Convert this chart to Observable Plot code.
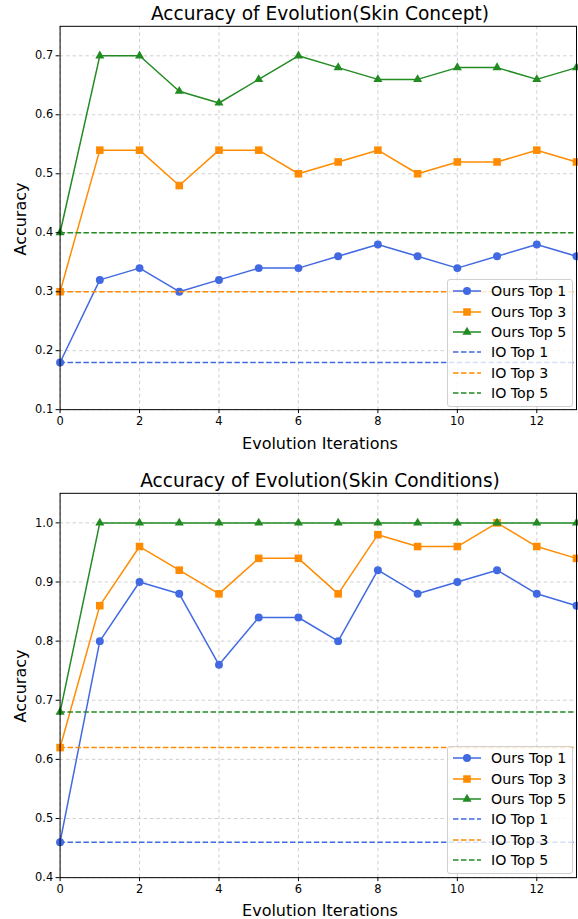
<!DOCTYPE html>
<html>
<head>
<meta charset="utf-8">
<script src="https://cdn.jsdelivr.net/npm/d3@7"></script>
<script src="https://cdn.jsdelivr.net/npm/@observablehq/plot@0.6"></script>
<style>
  html, body { margin: 0; padding: 0; background: #fff; overflow: hidden; }
  body { width: 578px; height: 919px; position: relative; font-family: "DejaVu Sans", sans-serif; }
  .abs { position: absolute; }
  .title { font-size: 18.6px; color: #000; white-space: nowrap; transform: translate(-50%, -50%); }
  .xlabel { font-size: 16px; color: #000; white-space: nowrap; transform: translate(-50%, -50%); }
  .ylabel { font-size: 16px; color: #000; white-space: nowrap; transform: translate(-50%, -50%) rotate(-90deg); }
  .legend { background: rgba(255,255,255,0.8); border: 1px solid #d0d0d0; border-radius: 3px; padding: 1px 2px 3px 4px; box-sizing: border-box; overflow: hidden; }
  .legend .row { display: flex; align-items: center; height: 20.4px; font-size: 14.2px; color: #000; white-space: nowrap; }
  .legend svg { margin-right: 9px; flex: none; }
</style>
</head>
<body>
<script>
// ---------- data ----------
const iterations = [0, 1, 2, 3, 4, 5, 6, 7, 8, 9, 10, 11, 12, 13];

const conceptOursTop1 = [0.18, 0.32, 0.34, 0.30, 0.32, 0.34, 0.34, 0.36, 0.38, 0.36, 0.34, 0.36, 0.38, 0.36];
const conceptOursTop3 = [0.30, 0.54, 0.54, 0.48, 0.54, 0.54, 0.50, 0.52, 0.54, 0.50, 0.52, 0.52, 0.54, 0.52];
const conceptOursTop5 = [0.40, 0.70, 0.70, 0.64, 0.62, 0.66, 0.70, 0.68, 0.66, 0.66, 0.68, 0.68, 0.66, 0.68];
const conceptIO = [0.18, 0.30, 0.40];

const condOursTop1 = [0.46, 0.80, 0.90, 0.88, 0.76, 0.84, 0.84, 0.80, 0.92, 0.88, 0.90, 0.92, 0.88, 0.86];
const condOursTop3 = [0.62, 0.86, 0.96, 0.92, 0.88, 0.94, 0.94, 0.88, 0.98, 0.96, 0.96, 1.00, 0.96, 0.94];
const condOursTop5 = [0.68, 1.00, 1.00, 1.00, 1.00, 1.00, 1.00, 1.00, 1.00, 1.00, 1.00, 1.00, 1.00, 1.00];
const condIO = [0.46, 0.62, 0.68];

const seriesNames = ["Ours Top 1", "Ours Top 3", "Ours Top 5"];
const ioNames = ["IO Top 1", "IO Top 3", "IO Top 5"];
const colors = ["#4169E1", "#FF8C00", "#228B22"];
const symbols = ["circle", "square", "triangle"];
const symbolR = [4, 4.3, 3.4];

const xTicks = [0, 2, 4, 6, 8, 10, 12];
const conceptYTicks = [0.1, 0.2, 0.3, 0.4, 0.5, 0.6, 0.7];
const condYTicks = [0.4, 0.5, 0.6, 0.7, 0.8, 0.9, 1.0];

const titles = ["Accuracy of Evolution(Skin Concept)", "Accuracy of Evolution(Skin Conditions)"];
const xLabel = "Evolution Iterations";
const yLabel = "Accuracy";

// ---------- chart builder ----------
function makeChart({ours, io, yDomain, yTicks, height, marginBottom}) {
  const marks = [
    Plot.gridX(xTicks, {stroke: "#b0b0b0", strokeOpacity: 0.6, strokeDasharray: "3.5,3"}),
    Plot.gridY(yTicks, {stroke: "#b0b0b0", strokeOpacity: 0.6, strokeDasharray: "3.5,3"})
  ];
  ours.forEach((vals, i) => {
    const data = iterations.map((x, j) => ({x, y: vals[j]}));
    marks.push(Plot.line(data, {x: "x", y: "y", stroke: colors[i], strokeWidth: 1.5}));
    marks.push(Plot.dot(data, {x: "x", y: "y", fill: colors[i], stroke: "none", symbol: symbols[i], r: symbolR[i]}));
  });
  io.forEach((v, i) => {
    marks.push(Plot.ruleY([v], {x1: 0, x2: 13, stroke: colors[i], strokeWidth: 1.5, strokeDasharray: "5.5,2.5"}));
  });
  marks.push(Plot.frame({stroke: "#000", strokeWidth: 1}));
  marks.push(Plot.axisX(xTicks, {tickSize: 4, tickPadding: 3, fontSize: 11.5, label: null, tickFormat: d3.format("d")}));
  marks.push(Plot.axisY(yTicks, {tickSize: 4, tickPadding: 3, fontSize: 11.5, label: null, tickFormat: d3.format(".1f")}));
  return Plot.plot({
    width: 582, height,
    marginLeft: 60, marginRight: 2, marginTop: 26, marginBottom,
    x: {domain: [0, 13]},
    y: {domain: yDomain},
    style: {fontFamily: "DejaVu Sans, sans-serif", color: "#000", background: "transparent", overflow: "visible"},
    marks
  });
}

function place(el, left, top) {
  el.classList.add("abs");
  el.style.left = left + "px";
  el.style.top = top + "px";
  document.body.appendChild(el);
  return el;
}
function label(text, cls, x, y) {
  const d = document.createElement("div");
  d.className = cls;
  d.textContent = text;
  place(d, x, y);
}
function legend(x, y) {
  const box = document.createElement("div");
  box.className = "legend";
  const items = [
    ...seriesNames.map((n, i) => ({n, i, dashed: false})),
    ...ioNames.map((n, i) => ({n, i, dashed: true}))
  ];
  items.forEach(({n, i, dashed}) => {
    const row = document.createElement("div");
    row.className = "row";
    const ns = "http://www.w3.org/2000/svg";
    const s = document.createElementNS(ns, "svg");
    s.setAttribute("width", 30); s.setAttribute("height", 14);
    const l = document.createElementNS(ns, "line");
    l.setAttribute("x1", 1); l.setAttribute("x2", 29); l.setAttribute("y1", 7); l.setAttribute("y2", 7);
    l.setAttribute("stroke", colors[i]); l.setAttribute("stroke-width", 1.5);
    if (dashed) l.setAttribute("stroke-dasharray", "5.5,2.5");
    s.appendChild(l);
    if (!dashed) {
      const p = document.createElementNS(ns, "path");
      const sym = [d3.symbolCircle, d3.symbolSquare, d3.symbolTriangle][i];
      p.setAttribute("d", d3.symbol(sym, Math.PI * symbolR[i] * symbolR[i])());
      p.setAttribute("transform", "translate(15,7)");
      p.setAttribute("fill", colors[i]);
      s.appendChild(p);
    }
    row.appendChild(s);
    const t = document.createElement("span");
    t.textContent = n;
    row.appendChild(t);
    box.appendChild(row);
  });
  box.style.width = "126px";
  place(box, x, y);
}

// ---------- chart 1 ----------
const c1 = makeChart({ours: [conceptOursTop1, conceptOursTop3, conceptOursTop5], io: conceptIO,
  yDomain: [0.1, 0.75], yTicks: conceptYTicks, height: 460, marginBottom: 48});
place(c1, 0, 0);
label(titles[0], "title", 320, 13);
label(xLabel, "xlabel", 320, 443);
label(yLabel, "ylabel", 20, 219);
legend(447, 279);

// ---------- chart 2 ----------
const c2 = makeChart({ours: [condOursTop1, condOursTop3, condOursTop5], io: condIO,
  yDomain: [0.4, 1.05], yTicks: condYTicks, height: 452, marginBottom: 39});
place(c2, 0, 467);
label(titles[1], "title", 320, 480);
label(xLabel, "xlabel", 320, 910);
label(yLabel, "ylabel", 20, 686);
legend(447, 746);
</script>
</body>
</html>
